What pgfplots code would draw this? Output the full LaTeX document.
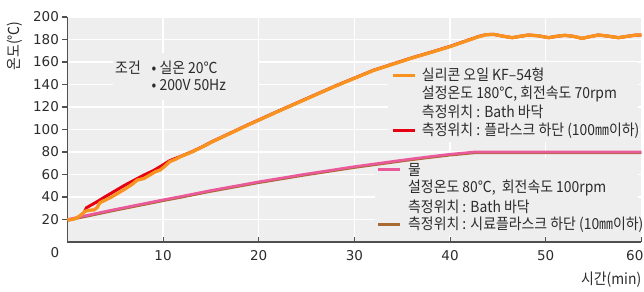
\documentclass[border=0pt]{standalone}
\usepackage{fontspec}
\usepackage{pgfplots}
\pgfplotsset{compat=1.18}
\setmainfont{Noto Sans CJK KR}[FakeStretch=0.915]
\newfontfamily\tickfont{DejaVu Sans}
\definecolor{bgray}{HTML}{EEEEEE}
\definecolor{oilc}{HTML}{F7931E}
\definecolor{redc}{HTML}{E60012}
\definecolor{pinkc}{HTML}{EA5A9A}
\definecolor{brownc}{HTML}{A86A32}
\definecolor{axisc}{HTML}{505050}
\definecolor{txt}{HTML}{2B2B2B}
\begin{document}
\begin{tikzpicture}[x=1bp,y=1bp]
\begin{axis}[
  at={(0,0)}, anchor=south west,
  scale only axis, width=574bp, height=225bp,
  xmin=0, xmax=60, ymin=0, ymax=200,
  axis x line=bottom, axis y line=left,
  axis line style={draw=axisc, line width=1.3bp, -},
  axis background/.style={fill=bgray},
  xtick={10,20,...,60}, ytick={20,40,...,200},
  xticklabels={10,20,30,40,50,\makebox[4bp][r]{60}},
  grid=major, major grid style={white, line width=1.3bp},
  tick align=outside, major tick length=5bp,
  tick style={axisc, line width=1.1bp},
  xtick style={yshift=5bp},
  tick label style={font=\tickfont\fontsize{13.5bp}{15bp}\selectfont, text=txt},
  /pgf/number format/assume math mode=true,
  clip=false,
]
% boxes that hide the grid behind text
\fill[bgray] (axis cs:4.77,126.2) rectangle (axis cs:19.92,168);
\fill[bgray] (axis cs:33.5,88.9) rectangle (axis cs:59.64,160);
\fill[bgray] (axis cs:32.15,5.3) rectangle (axis cs:59.64,74.7);

% water
\addplot[brownc, line width=2.6bp, line join=round] coordinates {
(0,19.2) (5,28.2) (10,36.7) (11.76,39.5) (15,45) (20,52.7) (25,59.7) (30,66.2) (32.6,69.2) (35,72) (37.5,74.7) (40,77.2) (42.5,79.2) (60,79.2)};
\addplot[pinkc, line width=2.6bp, line join=round] coordinates {
(0,20) (5,29) (10,37.5) (11.76,40.3) (15,45.8) (20,53.5) (25,60.5) (30,67) (32.6,70) (35,72.8) (37.5,75.5) (40,78) (42.5,80) (60,80)};

% silicone oil
\addplot[redc, line width=3bp, line join=round] coordinates {
(1.8,27) (2.0,30.5) (3.1,35.8) (4,40.5) (5,45.5) (6,50.5) (7,55) (8,59.5) (9,63.5) (9.7,67) (10.7,72.3) (11.8,76) (13,80.2) (14,84.2) (15,88.7) (16,92.7) (17,96.7) (18,100.7) (19,104.7) (20,108.5) (22,116.2) (24,123.7) (26,131.2) (28,138.7) (30,145.7) (32,152.7) (34,158.2) (36,163.7) (38,168.7) (40,173.9) (42,179.8) (43,182.7) (43.8,184.4) (44.6,184.5) (45.5,183) (46.5,181.6) (47.3,182.8) (48.2,184) (49.2,183.3) (50.3,181.6) (51.1,182.8) (52,183.7) (52.9,182.8) (53.8,181) (54.6,182.5) (55.5,184) (56.5,183) (57.6,181.6) (58.5,182.8) (59.5,184) (60,184)};
\addplot[oilc, line width=3.3bp, line join=round] coordinates {
(0,19.6) (0.6,20.2) (1.0,21.5) (1.4,24) (1.9,27.5) (2.3,28.2) (2.8,28.6) (3.1,30.5) (3.4,35) (3.9,37) (4.5,39.5) (5.2,43) (6.0,47) (6.8,51.5) (7.3,55) (8.0,56.5) (8.6,59.5) (9.2,62.5) (9.7,64) (10.2,67.5) (10.7,71.4) (11.3,73.5) (11.8,75.8) (13,80) (14,84) (15,88.5) (16,92.5) (17,96.5) (18,100.5) (19,104.5) (20,108.3) (22,116) (24,123.5) (26,131) (28,138.5) (30,145.5) (32,152.5) (34,158) (36,163.5) (38,168.5) (40,173.7) (42,179.6) (43,182.5) (43.8,184.3) (44.6,184.5) (45.5,183) (46.5,181.6) (47.3,182.8) (48.2,184) (49.2,183.3) (50.3,181.6) (51.1,182.8) (52,183.7) (52.9,182.8) (53.8,181) (54.6,182.5) (55.5,184) (56.5,183) (57.6,181.6) (58.5,182.8) (59.5,184) (60,184)};

% texts
\tikzset{lab/.style={font=\fontsize{15.2bp}{17bp}\selectfont, text=txt, inner sep=0pt}}
\node[lab, anchor=west] at (axis cs:4.98,154.9) {조건};
\node[lab, anchor=west] at (axis cs:8.79,154.9) {• 실온 20℃};
\node[lab, anchor=west] at (axis cs:8.79,139.6) {• 200V 50Hz};

\draw[oilc, line width=3bp] (axis cs:34.03,148.4) -- (axis cs:36.33,148.4);
\draw[redc, line width=3bp] (axis cs:34.03,98.7) -- (axis cs:36.33,98.7);
\node[lab, anchor=west] at (axis cs:37.04,148.4) {실리콘 오일 KF–54형};
\node[lab, anchor=west] at (axis cs:37.04,132) {설정온도 180℃, 회전속도 70rpm};
\node[lab, anchor=west] at (axis cs:37.04,115.3) {측정위치 : Bath 바닥};
\node[lab, anchor=west] at (axis cs:37.04,98.7) {측정위치 : 플라스크 하단 (100㎜이하)};

\draw[pinkc, line width=3bp] (axis cs:32.47,64.2) -- (axis cs:34.77,64.2);
\draw[brownc, line width=3bp] (axis cs:32.47,15.7) -- (axis cs:34.77,15.7);
\node[lab, anchor=west] at (axis cs:35.6,64.2) {물};
\node[lab, anchor=west] at (axis cs:35.6,48) {설정온도 80℃,\ \ 회전속도 100rpm};
\node[lab, anchor=west] at (axis cs:35.6,31.6) {측정위치 : Bath 바닥};
\node[lab, anchor=west] at (axis cs:35.6,15.7) {측정위치 : 시료플라스크 하단 (10㎜이하)};

\node[lab, rotate=90] at (axis cs:-5.53,174.2) {온도(℃)};
\node[lab, anchor=east] at (axis cs:60,-33.8) {시간(min)};
\node[font=\tickfont\fontsize{13.5bp}{15bp}\selectfont, text=txt, inner sep=0pt] at (axis cs:-1.30,-9.8) {0};
\end{axis}
\pgfresetboundingbox
\path[use as bounding box] (-67.4,-49) rectangle (576.6,242);
\end{tikzpicture}
\end{document}
